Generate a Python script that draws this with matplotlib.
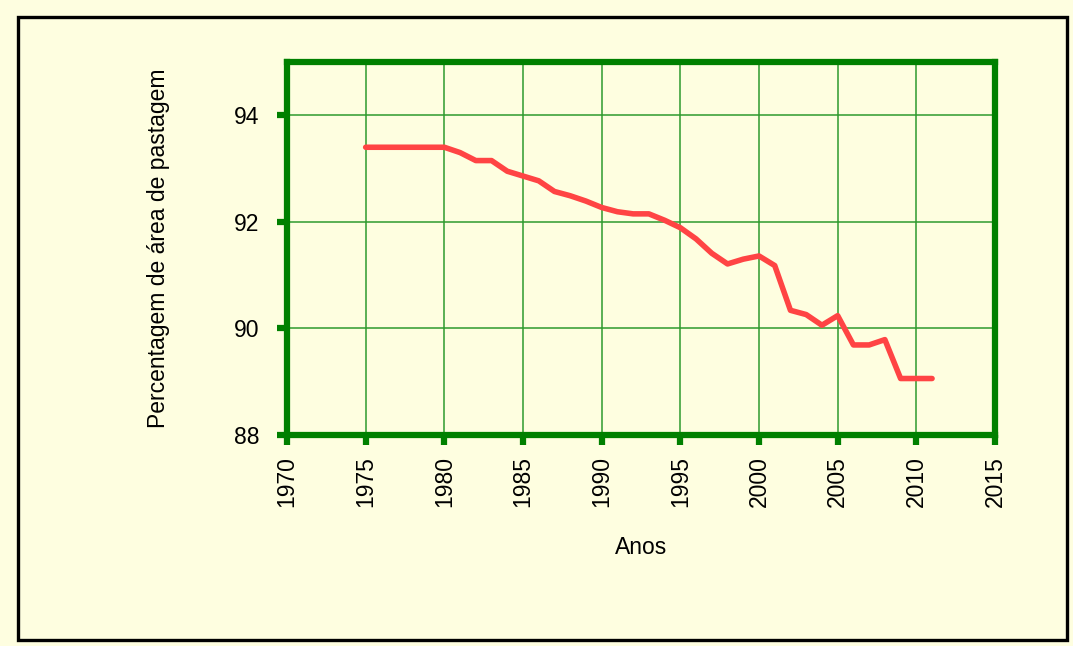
import matplotlib.pyplot as plt
from matplotlib.patches import Rectangle

years = list(range(1975, 2012))
pasture_pct = [93.4, 93.4, 93.4, 93.4, 93.4, 93.4, 93.3, 93.15, 93.15, 92.95,
               92.86, 92.77, 92.57, 92.49, 92.39, 92.27, 92.19, 92.15, 92.15, 92.03,
               91.89, 91.68, 91.41, 91.21, 91.3, 91.36, 91.18, 90.34, 90.26, 90.06,
               90.24, 89.69, 89.69, 89.79, 89.06, 89.06, 89.06]
x_ticks = list(range(1970, 2016, 5))
y_ticks = [88, 90, 92, 94]

bg = "#FEFEE0"
green = "#008000"
plt.rcParams['font.family'] = ['Liberation Sans', 'DejaVu Sans']

fig = plt.figure(figsize=(10.73, 6.46), dpi=100, facecolor=bg)
# black border round the whole chart
fig.patches.append(Rectangle((18 / 1073, 6 / 646), 1049 / 1073, 623 / 646,
                             transform=fig.transFigure, fill=False,
                             edgecolor="black", linewidth=2.4))

ax = fig.add_axes([287 / 1073, 1 - 435 / 646, 708 / 1073, 373 / 646])
ax.set_facecolor(bg)
ax.plot(years, pasture_pct, color="#FF4444", linewidth=4.0, solid_capstyle="round",
        solid_joinstyle="round", zorder=3)

ax.set_xlim(1970, 2015)
ax.set_ylim(88, 95)
ax.set_xticks(x_ticks)
ax.set_yticks(y_ticks)
ax.grid(True, color="#2E9A2E", linewidth=1.1)
ax.set_axisbelow(True)
for s in ax.spines.values():
    s.set_color(green)
    s.set_linewidth(4.5)
ax.tick_params(axis="both", color=green, width=4.5, length=7)
ax.tick_params(axis="x", labelsize=16.5, pad=8, labelrotation=90)
ax.tick_params(axis="y", labelsize=16.5, pad=13)

ax.set_xlabel("Anos", fontsize=16.5, va="center")
ax.xaxis.set_label_coords(0.5, (435 - 547) / 373)
ax.set_ylabel("Percentagem de área de pastagem", fontsize=16.5, va="center")
ax.yaxis.set_label_coords((158 - 287) / 708, (435 - 248) / 373)

fig.savefig("out.png", dpi=100, facecolor=bg)
